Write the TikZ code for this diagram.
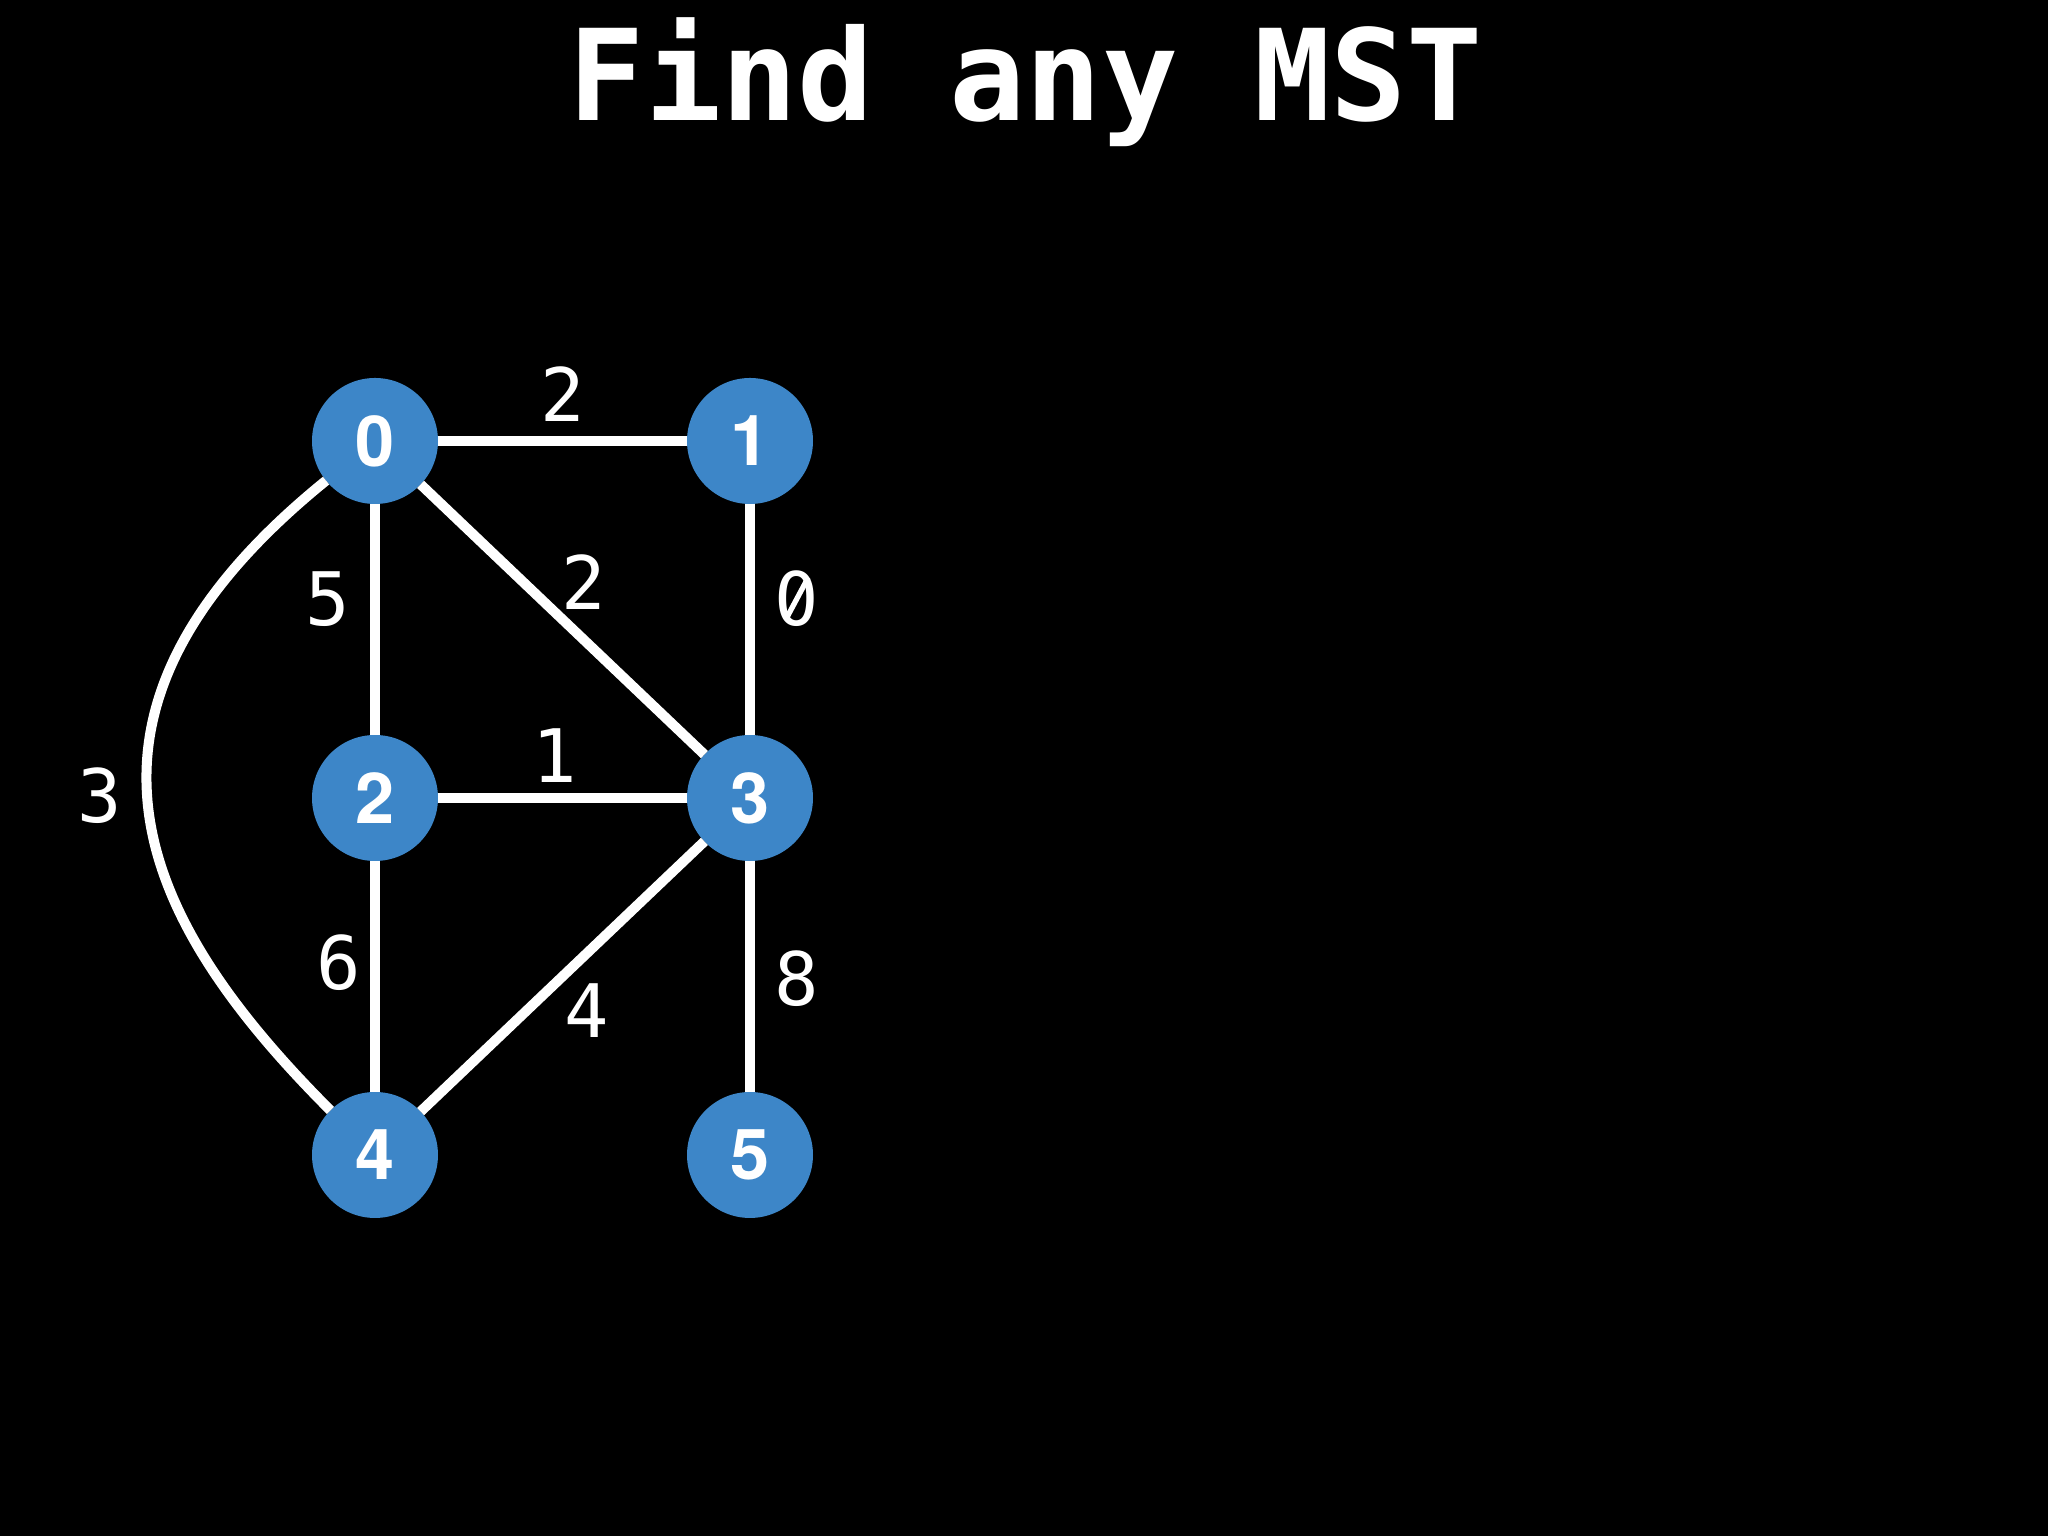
\documentclass[tikz,border=0pt]{standalone}
\usepackage{fontspec}
\setsansfont{TeX Gyre Heros}
\newfontfamily\weightfont{DejaVu Sans Mono}
\definecolor{NodeBlue}{HTML}{3D86C8}
\usetikzlibrary{positioning}

\begin{document}
\begin{tikzpicture}[
    vertex/.style={circle,fill=NodeBlue,text=white,
      minimum size=1.26cm,inner sep=0pt,outer sep=0pt,
      font=\sffamily\bfseries\fontsize{20}{20}\selectfont},
    link/.style={draw=white,line width=2.85pt},
    weight/.style={text=white,inner sep=5.6pt,
      font=\weightfont\fontsize{21}{21}\selectfont},
    node distance=2.31cm and 2.49cm
  ]
    \fill[black] (0,0) rectangle (20.48,15.36);
    \useasboundingbox (0,0) rectangle (20.48,15.36);

    \node[text=white,anchor=base,
      font=\weightfont\bfseries\fontsize{36}{36}\selectfont]
      (title) at (10.26,14.15) {Find any MST};

    \node[vertex] (n0) at (3.75,10.95) {0};
    \node[vertex,right=of n0] (n1) {1};
    \node[vertex,below=of n0] (n2) {2};
    \node[vertex,below=of n1] (n3) {3};
    \node[vertex,below=of n2] (n4) {4};
    \node[vertex,below=of n3] (n5) {5};

    \draw[link] (n0) -- node[weight,above,inner sep=4.2pt] {2} (n1);
    \draw[link] (n0) -- node[weight,left,pos=0.41] {5} (n2);
    \draw[link] (n0) -- node[weight,above right,pos=0.48,inner sep=0pt] {2} (n3);
    \draw[link] (n1) -- node[weight,right,pos=0.41] (w13) {0} (n3);
    \draw[link] (n2) -- node[weight,above,pos=0.47,inner sep=2.9pt] {1} (n3);
    \draw[link] (n2) -- node[weight,left,pos=0.44,inner sep=2.6pt] {6} (n4);
    \draw[link] (n3) -- node[weight,below right,pos=0.51,inner sep=0pt] {4} (n4);
    \draw[link] (n3) -- node[weight,right,pos=0.51] {8} (n5);
    \draw[link] (n0) to[out=219,in=135,out looseness=1.5,in looseness=1.1]
      node[weight,left,pos=0.475] {3} (n4);

    % slashed zero instead of the dotted one
    \fill[black] (w13.center) ellipse (2.1pt and 2.8pt);
    \draw[white,line width=1.5pt] ([shift={(-3.2pt,-6pt)}]w13.center)
      -- ([shift={(3.2pt,6pt)}]w13.center);
\end{tikzpicture}
\end{document}
